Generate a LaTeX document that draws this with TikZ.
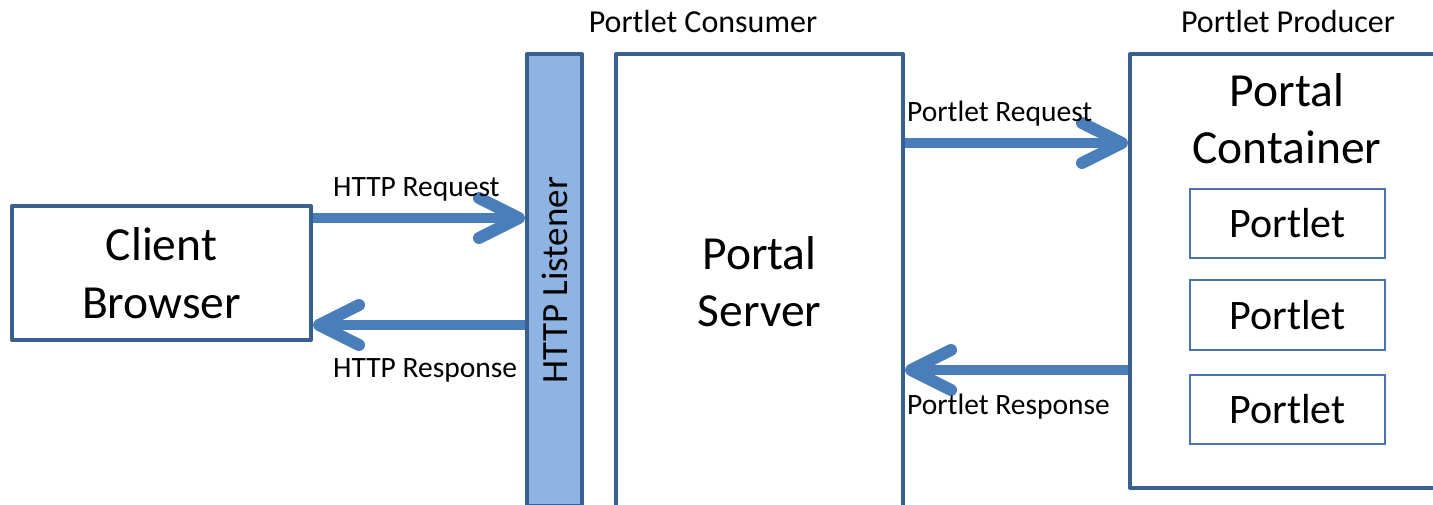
\documentclass[tikz,border=0pt]{standalone}
\usepackage{fontspec}
\setmainfont{Carlito}
\usetikzlibrary{arrows.meta}
\definecolor{edgeblue}{HTML}{3A6090}
\definecolor{thinblue}{HTML}{4A74AE}
\definecolor{fillblue}{HTML}{8EB4E3}
\definecolor{arrowblue}{HTML}{4A7EBB}
\newcommand{\fs}[1]{\fontsize{#1}{#1}\selectfont}
\newcommand{\bigfs}{\fontsize{47.5}{57.5}\selectfont}
\tikzset{
  box/.style={draw=edgeblue, line width=4pt, line join=round, fill=white,
    inner sep=0pt, align=center},
  portletbox/.style={draw=thinblue, line width=2pt, inner sep=0pt,
    minimum width=195pt, minimum height=69pt, font=\fs{42}},
  arr/.style={draw=arrowblue, line width=10pt,
    -{Straight Barb[length=40pt, width=40pt, line width=12pt, round]}},
  lbl/.style={inner sep=0pt, font=\fs{29.5}},
  head/.style={inner sep=0pt, font=\fs{32}},
}
\begin{document}
\begin{tikzpicture}[x=1pt, y=-1pt]
  \useasboundingbox (0,0) rectangle (1433,505);
  \clip (0,0) rectangle (1433,505);

  % participants
  \node[box, minimum width=299pt, minimum height=134pt, font=\bigfs]
        (client) at (161.5,273) {Client\\Browser};
  \node[box, fill=fillblue, minimum width=452pt, minimum height=55pt,
        font=\fs{37}, rotate=90] (listener) at (554.5,280) {HTTP Listener};
  \node[box, minimum width=287pt, minimum height=455pt, font=\bigfs]
        (server) at (759.5,281.5) {Portal\\Server};
  \node[box, minimum width=315pt, minimum height=434pt] (container)
        at (1287.5,271) {};
  \node[align=center, inner sep=0pt, font=\bigfs, anchor=north]
        (ctitle) at (1287,73) {Portal\\Container};

  \node[portletbox] (p1) at (1287.5,223.5) {Portlet};
  \node[portletbox] (p2) at (1287.5,315) {Portlet};
  \node[portletbox] (p3) at (1287.5,409.5) {Portlet};

  % group headings
  \node[head] (consumer) at (703,22) {Portlet Consumer};
  \node[head] (producer) at (1288,22) {Portlet Producer};

  % message flow
  \draw[arr] (client.east |- 0,218) -- (listener.north |- 0,218);
  \draw[arr] (listener.north |- 0,325) -- (client.east |- 0,325);
  \draw[arr] (server.east |- 0,143) -- (container.west |- 0,143);
  \draw[arr] (container.west |- 0,370) -- (server.east |- 0,370);

  \node[lbl, anchor=west] (lreq) at (333,189.5) {HTTP Request};
  \node[lbl, anchor=west] (lres) at (333,370.5) {HTTP Response};
  \node[lbl, anchor=west] (preq) at (907,113.5) {Portlet Request};
  \node[lbl, anchor=west] (pres) at (907,406.5) {Portlet Response};
\end{tikzpicture}
\end{document}
